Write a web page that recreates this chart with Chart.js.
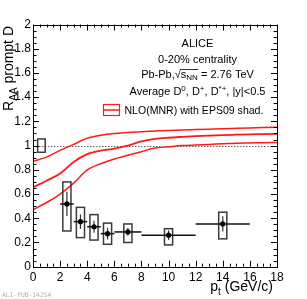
<!DOCTYPE html>
<html><head><meta charset="utf-8">
<script src="https://cdn.jsdelivr.net/npm/chart.js@4.4.1/dist/chart.umd.min.js"></script>
<style>html,body{margin:0;padding:0;background:#fff;}#wrap{width:307px;height:299px;position:relative;}</style>
</head><body><div id="wrap"><canvas id="c" width="307" height="299"></canvas></div>
<script>
// Measured data: prompt D RAA, 0-20%
const ptCenters = [2.5, 3.5, 4.5, 5.5, 7, 10, 14];
const ptLow = [2, 3, 4, 5, 6, 8, 12];
const ptHigh = [3, 4, 5, 6, 8, 12, 16];
const raa = [0.518, 0.372, 0.33, 0.273, 0.287, 0.26, 0.353];
const statErr = [0.10, 0.06, 0.05, 0.048, 0.032, 0.04, 0.063];
const sysHigh = [0.70, 0.49, 0.43, 0.36, 0.353, 0.314, 0.45];
const sysLow = [0.295, 0.24, 0.22, 0.185, 0.20, 0.18, 0.23];
const sysHalfWidth = 0.3;
// Normalisation uncertainty box
const normBox = {x: 0.62, halfWidth: 0.28, low: 0.945, high: 1.055};
// NLO(MNR) with EPS09 shadowing band
const nloPt = [0,1,2,3,4,5,6,7,8,9,10,11,12,13,14,15,16,17,18];
const nloUpper = [0.87,0.905,0.96,1.01,1.06,1.085,1.1,1.108,1.115,1.12,1.125,1.128,1.132,1.136,1.14,1.143,1.146,1.149,1.152];
const nloCentral = [0.655,0.71,0.77,0.865,0.93,0.958,0.975,1.0,1.035,1.055,1.065,1.072,1.078,1.083,1.087,1.09,1.093,1.095,1.097];
const nloLower = [0.47,0.53,0.6,0.69,0.8,0.85,0.89,0.92,0.95,0.98,0.99,1.0,1.005,1.01,1.015,1.02,1.022,1.024,1.025];
const xTicks = [0,2,4,6,8,10,12,14,16,18];
const yTicks = [0,0.2,0.4,0.6,0.8,1,1.2,1.4,1.6,1.8,2];

const FONT = '"Liberation Sans", Arial, Helvetica, sans-serif';
const red = '#ff1a1a';

function xy(xs, ys){ return xs.map((x,i)=>({x:x, y:ys[i]})); }

const dataPlugin = {
  id: 'dataPlugin',
  beforeDatasetsDraw(chart){
    const ctx = chart.ctx, xs = chart.scales.x, ys = chart.scales.y;
    ctx.save();
    ctx.strokeStyle = '#666'; ctx.lineWidth = 1; ctx.setLineDash([1.5,1.5]);
    ctx.beginPath(); ctx.moveTo(xs.getPixelForValue(0), Math.round(ys.getPixelForValue(1))+0.5);
    ctx.lineTo(xs.getPixelForValue(18), Math.round(ys.getPixelForValue(1))+0.5); ctx.stroke();
    ctx.setLineDash([]);
    ctx.restore();
  },
  afterDatasetsDraw(chart){
    const ctx = chart.ctx, xs = chart.scales.x, ys = chart.scales.y;
    ctx.save();
    ctx.strokeStyle = '#3a3a3a'; ctx.lineWidth = 1.5;
    for (let i=0;i<ptCenters.length;i++){
      const x1 = xs.getPixelForValue(ptCenters[i]-sysHalfWidth), x2 = xs.getPixelForValue(ptCenters[i]+sysHalfWidth);
      const y1 = ys.getPixelForValue(sysHigh[i]), y2 = ys.getPixelForValue(sysLow[i]);
      ctx.strokeRect(x1, y1, x2-x1, y2-y1);
    }
    const nx1 = xs.getPixelForValue(normBox.x-normBox.halfWidth), nx2 = xs.getPixelForValue(normBox.x+normBox.halfWidth);
    const ny1 = ys.getPixelForValue(normBox.high), ny2 = ys.getPixelForValue(normBox.low);
    ctx.strokeRect(nx1, ny1, nx2-nx1, ny2-ny1);
    ctx.strokeStyle = '#111'; ctx.lineWidth = 1.5;
    for (let i=0;i<ptCenters.length;i++){
      const y = ys.getPixelForValue(raa[i]);
      ctx.beginPath(); ctx.moveTo(xs.getPixelForValue(ptLow[i]), y); ctx.lineTo(xs.getPixelForValue(ptHigh[i]), y); ctx.stroke();
    }
    ctx.strokeStyle = '#333'; ctx.lineWidth = 1.2;
    for (let i=0;i<ptCenters.length;i++){
      const x = xs.getPixelForValue(ptCenters[i]);
      ctx.beginPath(); ctx.moveTo(x, ys.getPixelForValue(raa[i]+statErr[i])); ctx.lineTo(x, ys.getPixelForValue(raa[i]-statErr[i])); ctx.stroke();
    }
    ctx.fillStyle = '#000';
    for (let i=0;i<ptCenters.length;i++){
      const x = xs.getPixelForValue(ptCenters[i]), y = ys.getPixelForValue(raa[i]);
      ctx.beginPath(); ctx.arc(x, y, 2.6, 0, Math.PI*2); ctx.fill();
    }
    ctx.restore();
  },
  afterDraw(chart){
    const ctx = chart.ctx, xs = chart.scales.x, ys = chart.scales.y, a = chart.chartArea;
    ctx.save();
    ctx.strokeStyle = '#000'; ctx.lineWidth = 1;
    ctx.strokeRect(Math.round(a.left)+0.5, Math.round(a.top)+0.5, Math.round(a.right-a.left), Math.round(a.bottom-a.top));
    ctx.beginPath();
    for (let k=0;k<=36;k++){
      const v = k*0.5; const x = Math.round(xs.getPixelForValue(v))+0.5;
      const L = (k%4===0)?6:3;
      ctx.moveTo(x, a.bottom); ctx.lineTo(x, a.bottom-L);
      ctx.moveTo(x, a.top); ctx.lineTo(x, a.top+L);
    }
    for (let k=0;k<=40;k++){
      const v = k*0.05; const y = Math.round(ys.getPixelForValue(v))+0.5;
      const L = (k%4===0)?6:3.5;
      ctx.moveTo(a.left, y); ctx.lineTo(a.left+L, y);
      ctx.moveTo(a.right, y); ctx.lineTo(a.right-L, y);
    }
    ctx.stroke();

    ctx.fillStyle = '#000';
    ctx.textBaseline = 'alphabetic';
    const cx = 197.5;
    ctx.textAlign = 'center';
    ctx.font = '11px ' + FONT;
    ctx.fillText('ALICE', cx, 47);
    ctx.fillText('0-20% centrality', cx, 63);

    function pieces(list, xStart, base){
      let x = xStart;
      ctx.textAlign = 'left';
      for (const p of list){
        ctx.font = p.f;
        if (p.draw !== false) ctx.fillText(p.t, x, base + (p.dy||0));
        p.x0 = x; x += ctx.measureText(p.t).width; p.x1 = x;
      }
      return x - xStart;
    }
    const f11 = '11px ' + FONT, f8 = '8px ' + FONT;
    const pb = [{t:'Pb-Pb,', f:f11},{t:'\u221A', f:f11},{t:'s', f:f11},{t:'NN', f:f8, dy:2.5},{t:' = 2.76 TeV', f:f11}];
    const wpb = pieces(pb.map(p=>Object.assign({}, p, {draw:false})), 0, 0);
    pieces(pb, cx - wpb/2, 77.5);
    ctx.lineWidth = 0.8; ctx.beginPath(); ctx.moveTo(pb[1].x1 - 0.5, 69.5); ctx.lineTo(pb[3].x1 + 0.5, 69.5); ctx.stroke();

    const av = [{t:'Average D', f:f11},{t:'0', f:f8, dy:-4.5},{t:', D', f:f11},{t:'+', f:f8, dy:-4.5},{t:', D', f:f11},{t:'*+', f:f8, dy:-4.5},{t:', |y|<0.5', f:f11}];
    const wav = pieces(av.map(p=>Object.assign({}, p, {draw:false})), 0, 0);
    pieces(av, cx - wav/2, 95);

    // legend
    ctx.strokeStyle = red; ctx.lineWidth = 1.2;
    ctx.strokeRect(103.5, 104.5, 16, 11);
    ctx.lineWidth = 1.5;
    ctx.beginPath(); ctx.moveTo(103.5, 110); ctx.lineTo(119.5, 110); ctx.stroke();
    ctx.fillStyle = '#000';
    const legText = 'NLO(MNR) with EPS09 shad.';
    ctx.font = '11px ' + FONT;
    let lw = ctx.measureText(legText).width;
    let ls = Math.min(11.5, 11 * 139 / lw);
    ctx.font = ls.toFixed(2) + 'px ' + FONT; ctx.textAlign = 'left';
    ctx.fillText(legText, 124.5, 114);

    const f14 = '14px ' + FONT, f10 = '10px ' + FONT;
    const xt = [{t:'p', f:f14},{t:'t', f:f10, dy:4},{t:' (GeV/c)', f:f14}];
    const wxt = pieces(xt.map(p=>Object.assign({}, p, {draw:false})), 0, 0);
    pieces(xt, 273 - wxt, 291);

    ctx.save();
    ctx.translate(13, 0); ctx.rotate(-Math.PI/2);
    const yt = [{t:'R', f:f14},{t:'AA', f:f10, dy:3.5},{t:' prompt D', f:f14}];
    const wyt = pieces(yt.map(p=>Object.assign({}, p, {draw:false})), 0, 0);
    pieces(yt, -(26 + wyt), 0);
    ctx.restore();

    ctx.fillStyle = '#b0b0b0'; ctx.font = '6.3px "DejaVu Sans Mono", monospace'; ctx.textAlign = 'left';
    ctx.fillText('ALI-PUB-14254', 2, 297);
    ctx.restore();
  }
};

new Chart(document.getElementById('c'), {
  type: 'scatter',
  data: {
    datasets: [
      {data: xy(nloPt, nloUpper), showLine: true, borderColor: red, borderWidth: 1.5, pointRadius: 0, cubicInterpolationMode: 'monotone', fill: false},
      {data: xy(nloPt, nloCentral), showLine: true, borderColor: red, borderWidth: 1.8, pointRadius: 0, cubicInterpolationMode: 'monotone', fill: false},
      {data: xy(nloPt, nloLower), showLine: true, borderColor: red, borderWidth: 1.5, pointRadius: 0, cubicInterpolationMode: 'monotone', fill: false}
    ]
  },
  options: {
    responsive: false, animation: false, devicePixelRatio: 1,
    layout: {padding: {left: 0, top: 24.5, right: 30, bottom: 0}},
    plugins: {legend: {display: false}, tooltip: {enabled: false}},
    scales: {
      x: {type: 'linear', min: 0, max: 18,
          afterBuildTicks: s => { s.ticks = xTicks.map(v=>({value:v})); },
          afterFit: s => { s.height = 32.3; },
          grid: {display: false, drawTicks: false}, border: {display: false},
          ticks: {color: '#000', font: {family: FONT, size: 12}, padding: 4, maxRotation: 0, autoSkip: false}},
      y: {type: 'linear', min: 0, max: 2,
          afterBuildTicks: s => { s.ticks = yTicks.map(v=>({value:v})); },
          afterFit: s => { s.width = 33; },
          grid: {display: false, drawTicks: false}, border: {display: false},
          ticks: {color: '#000', font: {family: FONT, size: 12}, padding: 2, autoSkip: false,
                  callback: v => String(Math.round(v*10)/10)}}
    }
  },
  plugins: [dataPlugin]
});
</script></body></html>
